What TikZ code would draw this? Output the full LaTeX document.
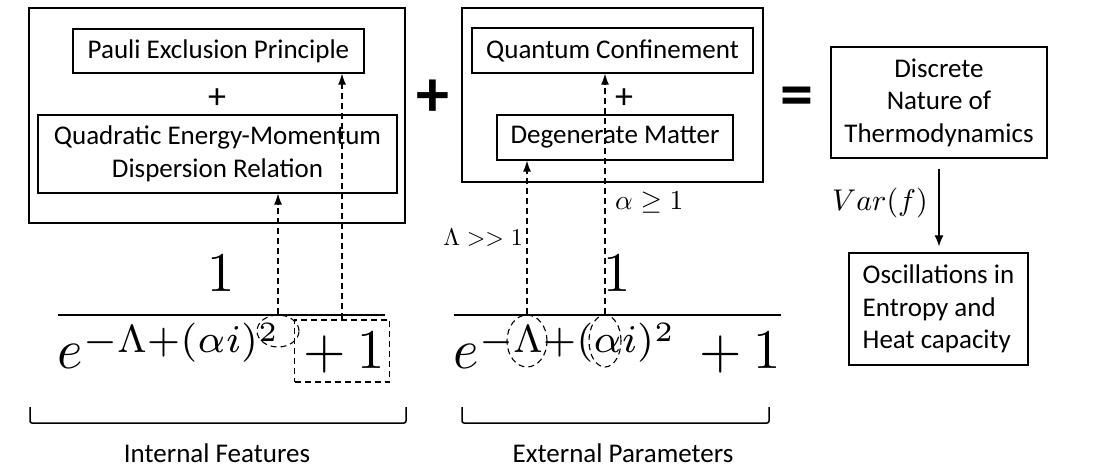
\documentclass[tikz,border=0pt]{standalone}
\usepackage[no-math]{fontspec}
\setmainfont{Carlito}
\usepackage{graphicx}
\usetikzlibrary{shapes.geometric,arrows.meta}
\begin{document}
\begin{tikzpicture}[x=1pt,y=-1pt,
  tbox/.style={draw,line width=1.3pt,inner sep=0pt,align=center,font=\fontsize{27}{32.5}\selectfont},
  outer/.style={draw,line width=2pt,inner sep=0pt},
  lbl/.style={font=\fontsize{27}{32.5}\selectfont,inner sep=0pt},
  sml/.style={font=\fontsize{36}{36}\selectfont,inner sep=0pt},
  big/.style={font=\fontsize{66}{66}\selectfont\bfseries,inner sep=0pt},
  dsh/.style={dash pattern=on 6pt off 4pt,line width=1.1pt},
  tip/.style={-{Latex[length=11pt,width=8pt]}},
  ell/.style={ellipse,draw,dsh,inner sep=0pt},
  brk/.style={line width=1.5pt,rounded corners=2pt},
  frac/.style={anchor=base west,inner sep=0pt}
]
\fill[white] (0,0) rectangle (1096,472);
\useasboundingbox (0,0) rectangle (1096,472);

% left group
\node[outer,minimum width=376,minimum height=215] (lout) at (217,115.5) {};
\node[tbox,minimum width=291,minimum height=44] (pauli) at (218.5,51) {Pauli Exclusion Principle};
\node[sml] (lplus) at (217,99) {+};
\node[tbox,minimum width=359,minimum height=78] (quad) at (217.5,154) {Quadratic Energy-Momentum\\Dispersion Relation};

% right group
\node[outer,minimum width=301,minimum height=174] (rout) at (612.5,95) {};
\node[tbox,minimum width=281,minimum height=45] (quant) at (612.5,50.5) {Quantum Confinement};
\node[sml] (rplus) at (624,99) {+};
\node[tbox,minimum width=236,minimum height=45] (degen) at (615,137.5) {Degenerate Matter};

% operators
\node[big] (bplus) at (433,98) {+};
\node[big] (beq) at (797,102) {=};

% result boxes
\node[tbox,minimum width=216,minimum height=111] (disc) at (939,102.5) {Discrete\\Nature of\\Thermodynamics};
\node[tbox,align=left,minimum width=179,minimum height=112] (osc) at (938.5,309) {Oscillations in\\Entropy and\\Heat capacity};
\draw[line width=1.2pt,-{Latex[length=11pt,width=9pt]},shorten <=10pt,shorten >=6pt] (disc.south) -- (disc.south |- osc.north);
\node[anchor=east,inner sep=0pt] (var) at (928,203) {\scalebox{3}{$Var(f)$}};

% formulas
\node[frac] (f1) at (51,329) {\scalebox{5.45}[5.6]{$\displaystyle\frac{1}{e^{-\Lambda+(\alpha i)^2}\,+1}$}};
\node[frac] (f2) at (447,329) {\scalebox{5.45}[5.6]{$\displaystyle\frac{1}{e^{-\Lambda+(\alpha i)^2}\,+1}$}};

% highlights
\node[ell,minimum width=42,minimum height=32] (sq) at (278,331) {};
\node[draw,dsh,minimum width=95,minimum height=62,inner sep=0pt] (pb) at (342,351) {};
\node[ell,minimum width=40,minimum height=52] (lam) at (527,341) {};
\node[ell,minimum width=32,minimum height=52] (al) at (605,341) {};

% dashed arrows
\draw[dsh,tip] (sq.north) -- (sq.north |- quad.south);
\draw[dsh,tip] (pb.north) -- (pb.north |- pauli.south);
\draw[dsh,tip] (lam.north) -- (lam.north |- degen.south);
\draw[dsh,tip] (al.north) -- (al.north |- quant.south);

\node[anchor=east,inner sep=0pt] (lamlbl) at (523,238) {\scalebox{2.4}{$\Lambda >> 1$}};
\node[anchor=west,inner sep=0pt] (allbl) at (615,203) {\scalebox{2.75}{$\alpha \geq 1$}};

% braces
\coordinate (b1a) at (30,407); \coordinate (b1b) at (406,407);
\coordinate (b2a) at (462,407); \coordinate (b2b) at (769,407);
\draw[brk] (b1a) -- ++(0,16) -| (b1b);
\draw[brk] (b2a) -- ++(0,16) -| (b2b);
\node[lbl] (intf) at (217,453) {Internal Features};
\node[lbl] (extp) at (623,453) {External Parameters};
\end{tikzpicture}
\end{document}
